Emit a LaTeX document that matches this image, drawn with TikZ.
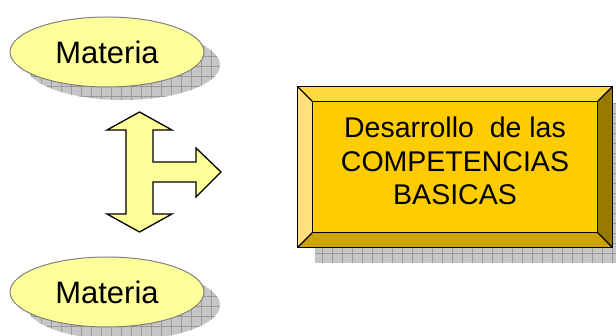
\documentclass[tikz,border=0pt]{standalone}
\usepackage{fontspec}
\setmainfont{Liberation Sans}
\usetikzlibrary{shapes.geometric,shadows,calc}

\definecolor{paleyellow}{HTML}{FFFF99}
\definecolor{ovalrim}{HTML}{808080}
\definecolor{gold}{HTML}{FFCC00}
\definecolor{bevtop}{HTML}{FFD940}
\definecolor{bevleft}{HTML}{FFE07A}
\definecolor{bevbottom}{HTML}{CCA300}
\definecolor{bevright}{HTML}{997A00}
\definecolor{shadefill}{HTML}{C6C6C6}
\definecolor{shadegrid}{HTML}{9A9A9A}

\tikzset{
  gridshadow/.style 2 args={
    general shadow={shadow xshift=#1, shadow yshift=#2, fill=shadefill,
      path picture={\draw[shadegrid, line width=0.6pt, step=10pt]
        (path picture bounding box.south west) grid (path picture bounding box.north east);}}},
  oval/.style={ellipse, draw=ovalrim, line width=1pt, fill=paleyellow,
    minimum width=194pt, minimum height=70pt, inner sep=0pt,
    font=\fontsize{31}{36}\selectfont, gridshadow={16pt}{-13pt}},
  goldbox/.style={rectangle, draw=black, line width=1.3pt, fill=gold,
    minimum width=314pt, minimum height=160pt, inner sep=0pt,
    align=center, font=\fontsize{28.5}{33.5}\selectfont, gridshadow={17pt}{-16pt}},
  bevel/.style={draw=black, line width=1.3pt, line join=miter},
  branch/.style={draw=black, line width=1.3pt, fill=paleyellow, line join=miter}
}

\begin{document}
\begin{tikzpicture}[x=1pt,y=-1pt]
  \useasboundingbox (0,0) rectangle (616,336);

  % the two subject ovals
  \node[oval] (top) at (107,52) {Materia};
  \node[oval] (bottom) at (107,292) {Materia};

  % three-way arrow: up, down and to the right
  \path[branch] (139.5,112) -- (172,130) -- (153,130) -- (153,162) -- (196,162)
    -- (196,148) -- (221,172) -- (196,197) -- (196,182) -- (153,182) -- (153,214)
    -- (172,214) -- (139.5,232) -- (107,214) -- (126,214) -- (126,130) -- (107,130) -- cycle;

  % bevelled goal panel
  \node[goldbox] (goal) at (455,167) {};
  \coordinate (inw) at ($(goal.north west)+(15pt,-15pt)$);
  \coordinate (ine) at ($(goal.north east)+(-15pt,-15pt)$);
  \coordinate (isw) at ($(goal.south west)+(15pt,15pt)$);
  \coordinate (ise) at ($(goal.south east)+(-15pt,15pt)$);
  \fill[bevtop] (goal.north west) -- (goal.north east) -- (ine) -- (inw) -- cycle;
  \fill[bevleft] (goal.north west) -- (inw) -- (isw) -- (goal.south west) -- cycle;
  \fill[bevbottom] (goal.south west) -- (isw) -- (ise) -- (goal.south east) -- cycle;
  \fill[bevright] (goal.north east) -- (goal.south east) -- (ise) -- (ine) -- cycle;
  \draw[bevel] (goal.north west) rectangle (goal.south east);
  \draw[bevel] (inw) rectangle (ise);
  \draw[bevel] (goal.north west) -- (inw) (goal.north east) -- (ine)
    (goal.south west) -- (isw) (goal.south east) -- (ise);
  \node[align=center, font=\fontsize{28.5}{33.5}\selectfont] (goaltext) at (455,161)
    {Desarrollo\ \ de las\\COMPETENCIAS\\BASICAS};
\end{tikzpicture}
\end{document}
